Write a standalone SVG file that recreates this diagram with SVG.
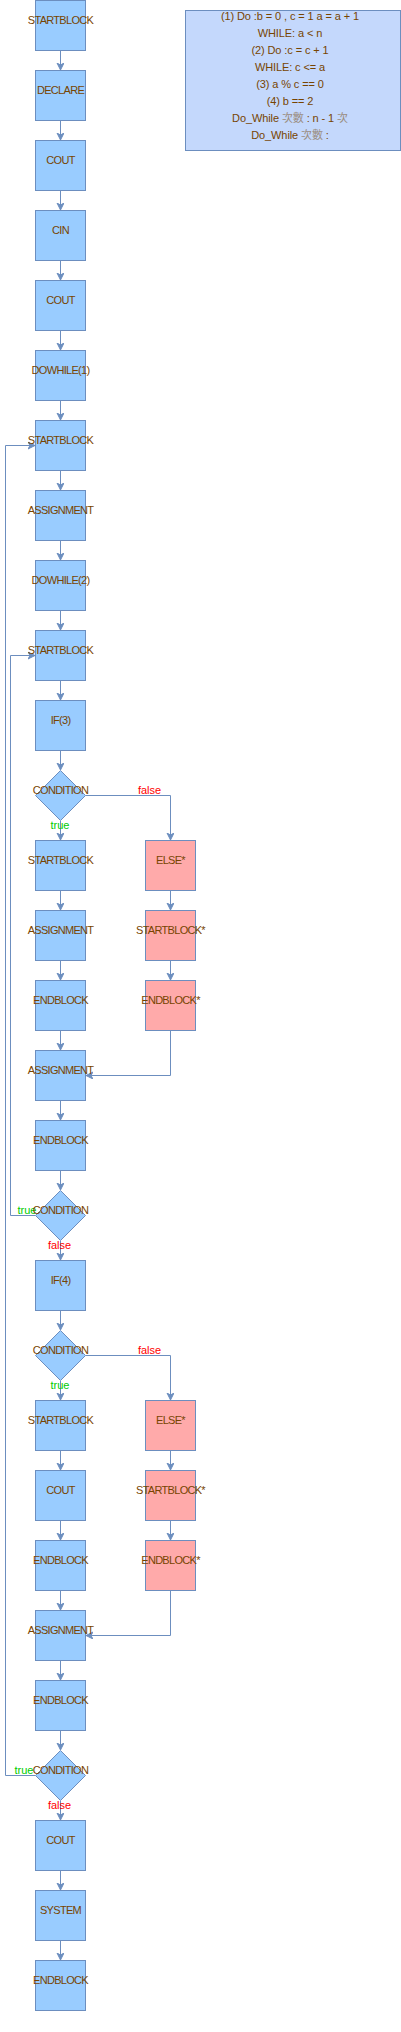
<svg xmlns="http://www.w3.org/2000/svg" width="401" height="2032" viewBox="0 0 401 2032">
<defs>
<marker id="arr" markerWidth="8" markerHeight="8" refX="7" refY="3.5" orient="auto" markerUnits="userSpaceOnUse">
<path d="M0,0 L7,3.5 L0,7 L2,3.5 z" fill="#6c8ebf" stroke="#6c8ebf" stroke-width="1"/>
</marker>
</defs>
<style>
.b{fill:#99ccff;stroke:#6c8ebf;stroke-width:1}
.p{fill:#ffaaaa;stroke:#6c8ebf;stroke-width:1}
.t{font-family:"Liberation Sans",Arial,sans-serif;font-size:11px;fill:#774400;text-anchor:middle;letter-spacing:-0.7px}
.n{font-family:"Liberation Sans",Arial,sans-serif;font-size:11px;fill:#774400;text-anchor:middle;letter-spacing:-0.1px}
.cj{font-family:"Noto Sans CJK TC","Noto Sans CJK SC",sans-serif;fill:#9a8c7e}
.e{fill:none;stroke:#6c8ebf;stroke-width:1;marker-end:url(#arr)}
.lt{font-family:"Liberation Sans",Arial,sans-serif;font-size:11px;fill:#00cc00;text-anchor:middle}
.lf{font-family:"Liberation Sans",Arial,sans-serif;font-size:11px;fill:#ff0000;text-anchor:middle}
</style>
<g id="note">
<rect x="185.5" y="10.5" width="215" height="140" fill="#c4d8fc" stroke="#6c8ebf"/>
<text class="n" x="290" y="20">(1) Do :b = 0 , c = 1 a = a + 1</text>
<text class="n" x="290" y="37">WHILE: a &lt; n</text>
<text class="n" x="290" y="54">(2) Do :c = c + 1</text>
<text class="n" x="290" y="71">WHILE: c &lt;= a</text>
<text class="n" x="290" y="88">(3) a % c == 0</text>
<text class="n" x="290" y="105">(4) b == 2</text>
<text class="n" x="290" y="122">Do_While <tspan class="cj">次數</tspan> : n - 1 <tspan class="cj">次</tspan></text>
<text class="n" x="290" y="139">Do_While <tspan class="cj">次數</tspan> :</text>
</g>
<g id="edges">
<path class="e" d="M60.5,51 V70"/>
<path class="e" d="M60.5,121 V140"/>
<path class="e" d="M60.5,191 V210"/>
<path class="e" d="M60.5,261 V280"/>
<path class="e" d="M60.5,331 V350"/>
<path class="e" d="M60.5,401 V420"/>
<path class="e" d="M60.5,471 V490"/>
<path class="e" d="M60.5,541 V560"/>
<path class="e" d="M60.5,611 V630"/>
<path class="e" d="M60.5,681 V700"/>
<path class="e" d="M60.5,751 V770"/>
<path class="e" d="M60.5,821 V840"/>
<path class="e" d="M60.5,891 V910"/>
<path class="e" d="M60.5,961 V980"/>
<path class="e" d="M60.5,1031 V1050"/>
<path class="e" d="M60.5,1101 V1120"/>
<path class="e" d="M60.5,1171 V1190"/>
<path class="e" d="M60.5,1241 V1260"/>
<path class="e" d="M60.5,1311 V1330"/>
<path class="e" d="M60.5,1381 V1400"/>
<path class="e" d="M60.5,1451 V1470"/>
<path class="e" d="M60.5,1521 V1540"/>
<path class="e" d="M60.5,1591 V1610"/>
<path class="e" d="M60.5,1661 V1680"/>
<path class="e" d="M60.5,1731 V1750"/>
<path class="e" d="M60.5,1801 V1820"/>
<path class="e" d="M60.5,1871 V1890"/>
<path class="e" d="M60.5,1941 V1960"/>
<path class="e" d="M170.5,891 V910"/>
<path class="e" d="M170.5,961 V980"/>
<path class="e" d="M170.5,1451 V1470"/>
<path class="e" d="M170.5,1521 V1540"/>
<path class="e" d="M85.5,795.5 H170.5 V840"/>
<path class="e" d="M85.5,1355.5 H170.5 V1400"/>
<path class="e" d="M170.5,1031 V1075.5 H86"/>
<path class="e" d="M170.5,1591 V1635.5 H86"/>
<path class="e" d="M35.5,1215.5 H10.5 V655.5 H35"/>
<path class="e" d="M35.5,1775.5 H5.5 V445.5 H35"/>
<text class="lf" x="149.5" y="794">false</text>
<text class="lt" x="60" y="829">true</text>
<text class="lt" x="27" y="1214">true</text>
<text class="lf" x="59.5" y="1249">false</text>
<text class="lf" x="149.5" y="1354">false</text>
<text class="lt" x="60" y="1389">true</text>
<text class="lt" x="24" y="1774">true</text>
<text class="lf" x="59.5" y="1809">false</text>
</g>
<g id="n1"><rect class="b" x="35.5" y="0.5" width="50" height="50"/><text class="t" x="60.5" y="24">STARTBLOCK</text></g>
<g id="n2"><rect class="b" x="35.5" y="70.5" width="50" height="50"/><text class="t" x="60.5" y="94">DECLARE</text></g>
<g id="n3"><rect class="b" x="35.5" y="140.5" width="50" height="50"/><text class="t" x="60.5" y="164">COUT</text></g>
<g id="n4"><rect class="b" x="35.5" y="210.5" width="50" height="50"/><text class="t" x="60.5" y="234">CIN</text></g>
<g id="n5"><rect class="b" x="35.5" y="280.5" width="50" height="50"/><text class="t" x="60.5" y="304">COUT</text></g>
<g id="n6"><rect class="b" x="35.5" y="350.5" width="50" height="50"/><text class="t" x="60.5" y="374">DOWHILE(1)</text></g>
<g id="n7"><rect class="b" x="35.5" y="420.5" width="50" height="50"/><text class="t" x="60.5" y="444">STARTBLOCK</text></g>
<g id="n8"><rect class="b" x="35.5" y="490.5" width="50" height="50"/><text class="t" x="60.5" y="514">ASSIGNMENT</text></g>
<g id="n9"><rect class="b" x="35.5" y="560.5" width="50" height="50"/><text class="t" x="60.5" y="584">DOWHILE(2)</text></g>
<g id="n10"><rect class="b" x="35.5" y="630.5" width="50" height="50"/><text class="t" x="60.5" y="654">STARTBLOCK</text></g>
<g id="n11"><rect class="b" x="35.5" y="700.5" width="50" height="50"/><text class="t" x="60.5" y="724">IF(3)</text></g>
<g id="n12"><polygon class="b" points="60.5,770.5 85.5,795.5 60.5,820.5 35.5,795.5"/><text class="t" x="60.5" y="794">CONDITION</text></g>
<g id="n13"><rect class="b" x="35.5" y="840.5" width="50" height="50"/><text class="t" x="60.5" y="864">STARTBLOCK</text></g>
<g id="n14"><rect class="b" x="35.5" y="910.5" width="50" height="50"/><text class="t" x="60.5" y="934">ASSIGNMENT</text></g>
<g id="n15"><rect class="b" x="35.5" y="980.5" width="50" height="50"/><text class="t" x="60.5" y="1004">ENDBLOCK</text></g>
<g id="n16"><rect class="p" x="145.5" y="840.5" width="50" height="50"/><text class="t" x="170.5" y="864">ELSE*</text></g>
<g id="n17"><rect class="p" x="145.5" y="910.5" width="50" height="50"/><text class="t" x="170.5" y="934">STARTBLOCK*</text></g>
<g id="n18"><rect class="p" x="145.5" y="980.5" width="50" height="50"/><text class="t" x="170.5" y="1004">ENDBLOCK*</text></g>
<g id="n19"><rect class="b" x="35.5" y="1050.5" width="50" height="50"/><text class="t" x="60.5" y="1074">ASSIGNMENT</text></g>
<g id="n20"><rect class="b" x="35.5" y="1120.5" width="50" height="50"/><text class="t" x="60.5" y="1144">ENDBLOCK</text></g>
<g id="n21"><polygon class="b" points="60.5,1190.5 85.5,1215.5 60.5,1240.5 35.5,1215.5"/><text class="t" x="60.5" y="1214">CONDITION</text></g>
<g id="n22"><rect class="b" x="35.5" y="1260.5" width="50" height="50"/><text class="t" x="60.5" y="1284">IF(4)</text></g>
<g id="n23"><polygon class="b" points="60.5,1330.5 85.5,1355.5 60.5,1380.5 35.5,1355.5"/><text class="t" x="60.5" y="1354">CONDITION</text></g>
<g id="n24"><rect class="b" x="35.5" y="1400.5" width="50" height="50"/><text class="t" x="60.5" y="1424">STARTBLOCK</text></g>
<g id="n25"><rect class="b" x="35.5" y="1470.5" width="50" height="50"/><text class="t" x="60.5" y="1494">COUT</text></g>
<g id="n26"><rect class="b" x="35.5" y="1540.5" width="50" height="50"/><text class="t" x="60.5" y="1564">ENDBLOCK</text></g>
<g id="n27"><rect class="p" x="145.5" y="1400.5" width="50" height="50"/><text class="t" x="170.5" y="1424">ELSE*</text></g>
<g id="n28"><rect class="p" x="145.5" y="1470.5" width="50" height="50"/><text class="t" x="170.5" y="1494">STARTBLOCK*</text></g>
<g id="n29"><rect class="p" x="145.5" y="1540.5" width="50" height="50"/><text class="t" x="170.5" y="1564">ENDBLOCK*</text></g>
<g id="n30"><rect class="b" x="35.5" y="1610.5" width="50" height="50"/><text class="t" x="60.5" y="1634">ASSIGNMENT</text></g>
<g id="n31"><rect class="b" x="35.5" y="1680.5" width="50" height="50"/><text class="t" x="60.5" y="1704">ENDBLOCK</text></g>
<g id="n32"><polygon class="b" points="60.5,1750.5 85.5,1775.5 60.5,1800.5 35.5,1775.5"/><text class="t" x="60.5" y="1774">CONDITION</text></g>
<g id="n33"><rect class="b" x="35.5" y="1820.5" width="50" height="50"/><text class="t" x="60.5" y="1844">COUT</text></g>
<g id="n34"><rect class="b" x="35.5" y="1890.5" width="50" height="50"/><text class="t" x="60.5" y="1914">SYSTEM</text></g>
<g id="n35"><rect class="b" x="35.5" y="1960.5" width="50" height="50"/><text class="t" x="60.5" y="1984">ENDBLOCK</text></g>
</svg>
